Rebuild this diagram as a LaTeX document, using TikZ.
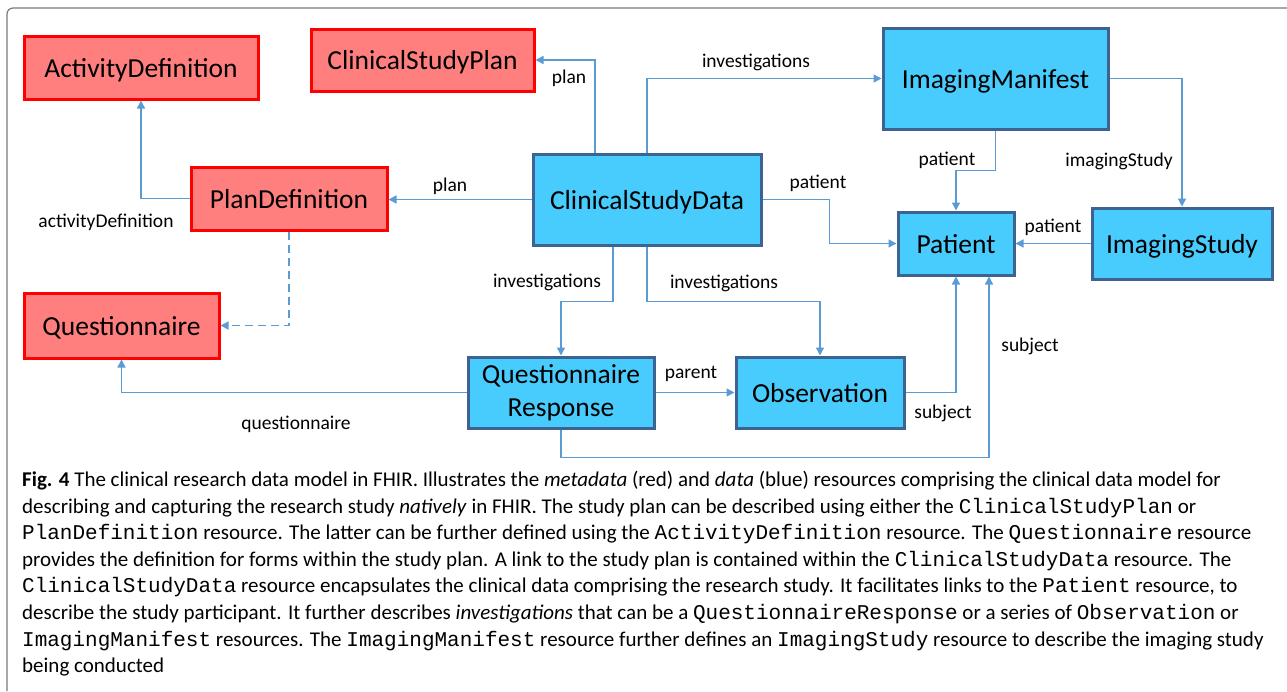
\documentclass[tikz,border=0pt]{standalone}
\usepackage{fontspec}
\setmainfont{Carlito}
\newfontfamily\codefont{Liberation Mono}
\usepackage{tikz}
\usetikzlibrary{positioning,calc,arrows.meta}

\definecolor{metafill}{HTML}{FF7F7F}
\definecolor{metaline}{HTML}{FF0000}
\definecolor{datafill}{HTML}{48CBFD}
\definecolor{dataline}{HTML}{3C6391}
\definecolor{linkblue}{HTML}{5B9BD5}
\definecolor{framegray}{HTML}{7A7A7A}

\newcommand{\code}[1]{{\codefont\fontsize{21}{21}\selectfont #1}}

\tikzset{
  meta/.style={rectangle,draw=metaline,fill=metafill,line width=3pt,inner sep=0pt,
    text height=19pt,text depth=0pt,font=\fontsize{27.5}{33}\selectfont},
  data/.style={rectangle,draw=dataline,fill=datafill,line width=3pt,inner sep=0pt,
    text height=19pt,text depth=0pt,align=center,font=\fontsize{27.5}{33}\selectfont},
  link/.style={draw=linkblue,line width=1.4pt,-{Triangle[length=8pt,width=8pt]}},
  lbl/.style={inner sep=0pt,font=\fontsize{19.5}{22}\selectfont}
}

\begin{document}
\begin{tikzpicture}[x=1pt,y=1pt]
      \useasboundingbox (0,0) rectangle (1287,-691);
      % frame
      \draw[framegray,line width=1.2pt,rounded corners=6pt] (7,-691) |- (1287,-8);
      % metadata
      \node[meta,minimum width=234pt,minimum height=63pt] (activity) at (141,-67.5) {ActivityDefinition};
      \node[meta,minimum width=223pt,minimum height=62pt] (csplan) at (422.5,-60) {ClinicalStudyPlan};
      \node[meta,minimum width=196pt,minimum height=63pt] (plandef) at (289,-198.5) {PlanDefinition};
      \node[meta,minimum width=195pt,minimum height=65pt] (quest) at (121.5,-325.5) {Questionnaire};
      % data
      \node[data,minimum width=228pt,minimum height=91pt] (csdata) at (647,-199.5) {ClinicalStudyData};
      \node[data,minimum width=225pt,minimum height=101pt] (imgman) at (995.5,-78.5) {ImagingManifest};
      \node[data,minimum width=116pt,minimum height=63pt] (patient) at (956,-243.5) {Patient};
      \node[data,minimum width=180pt,minimum height=71pt] (imgstudy) at (1182,-243.5) {ImagingStudy};
      \node[data,text height=,text depth=,minimum width=186pt,minimum height=71pt] (qresp) at (561,-392.5) {Questionnaire\\Response};
      \node[data,minimum width=168pt,minimum height=71pt] (obs) at (820,-392.5) {Observation};
      % plan links
      \draw[link] ([xshift=-52pt]csdata.north) |- (csplan.east);
      \draw[link] (csdata.west) -- (csdata.west -| plandef.east);
      \draw[link] (plandef.west) -| (activity.south);
      \draw[link,dash pattern=on 8pt off 5pt] (plandef.south) |- (quest.east);
      % investigations
      \draw[link] (csdata.north) |- (imgman.west);
      \draw[link] ([xshift=-34pt]csdata.south) -- ++(0,-55) -| (qresp.north);
      \draw[link] (csdata.south) -- ++(0,-55) -| (obs.north);
      \draw[link] (imgman.east) -| (imgstudy.north);
      \draw[link] (qresp.east) -- (obs.west);
      \draw[link] (qresp.west) -| (quest.south);
      % patient / subject
      \draw[link] (csdata.east) -| ($(csdata.east)!0.5!(patient.west)$) |- (patient.west);
      \draw[link] (imgman.south) |- ($(imgman.south)!0.5!(patient.north)$) -| (patient.north);
      \draw[link] (imgstudy.west) -- (patient.east);
      \draw[link] (obs.east) -| (patient.south);
      \draw[link] (qresp.south) -- ++(0,-28) -| ([xshift=33pt]patient.south);
      % labels
      \node[lbl] (lplan1) at (569,-78) {plan};
      \node[lbl] (lplan2) at (450,-186) {plan};
      \node[lbl] (lactdef) at (106,-222) {activityDefinition};
      \node[lbl] (linv1) at (756,-62) {investigations};
      \node[lbl] (linv2) at (547,-282) {investigations};
      \node[lbl] (linv3) at (724,-283) {investigations};
      \node[lbl] (lpat1) at (818,-183) {patient};
      \node[lbl] (lpat2) at (947,-160) {patient};
      \node[lbl] (lpat3) at (1053,-227) {patient};
      \node[lbl] (limgst) at (1119,-161) {imagingStudy};
      \node[lbl] (lparent) at (691,-374) {parent};
      \node[lbl] (lsubj1) at (943,-413) {subject};
      \node[lbl] (lsubj2) at (1030,-346) {subject};
      \node[lbl] (lquest) at (296,-424) {questionnaire};
      % caption
      \node[anchor=north west,inner sep=0pt,align=left,font=\fontsize{21}{26.6}\selectfont] (caption) at (22,-471) {%
\textbf{Fig. 4} The clinical research data model in FHIR. Illustrates the \textit{metadata} (red) and \textit{data} (blue) resources comprising the clinical data model for\\
describing and capturing the research study \textit{natively} in FHIR. The study plan can be described using either the \code{ClinicalStudyPlan} or\\
\code{PlanDefinition} resource. The latter can be further defined using the \code{ActivityDefinition} resource. The \code{Questionnaire} resource\\
provides the definition for forms within the study plan. A link to the study plan is contained within the \code{ClinicalStudyData} resource. The\\
\code{ClinicalStudyData} resource encapsulates the clinical data comprising the research study. It facilitates links to the \code{Patient} resource, to\\
describe the study participant. It further describes \textit{investigations} that can be a \code{QuestionnaireResponse} or a series of \code{Observation} or\\
\code{ImagingManifest} resources. The \code{ImagingManifest} resource further defines an \code{ImagingStudy} resource to describe the imaging study\\
being conducted};
\end{tikzpicture}
\end{document}
